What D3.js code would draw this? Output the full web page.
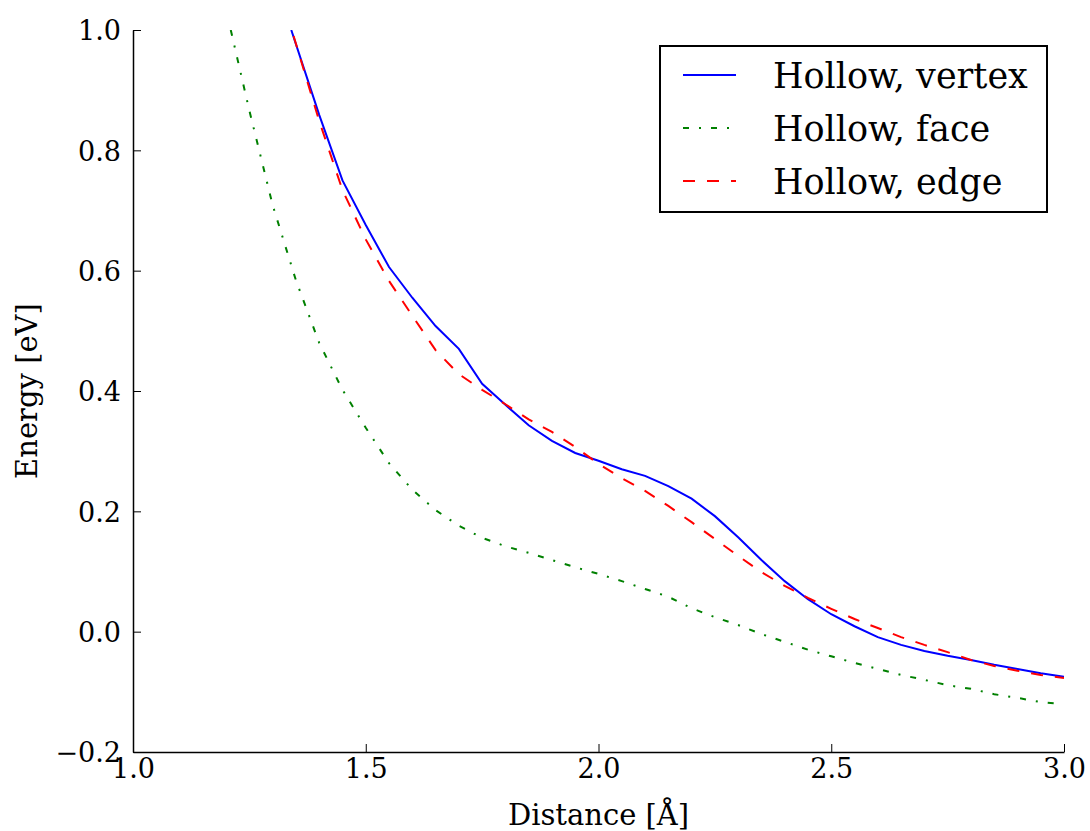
<!DOCTYPE html>
<html lang="en">
<head>
<meta charset="UTF-8">
<title>Hollow site energies</title>
<script src="https://d3js.org/d3.v7.min.js"></script>
<style>
    body { margin: 0; background: #fff; }
    svg { font-family: "DejaVu Serif", serif; }
</style>
</head>
<body>
<div id="chart"></div>
<script>
// distances [Å]
var vertexX = [1.34, 1.40, 1.45, 1.50, 1.55, 1.60, 1.65, 1.70, 1.75, 1.80, 1.85, 1.90, 1.95, 2.00,
    2.05, 2.10, 2.15, 2.20, 2.25, 2.30, 2.35, 2.40, 2.45, 2.50, 2.55, 2.60, 2.65, 2.70,
    2.75, 2.80, 2.85, 2.90, 2.95, 3.00];
var vertexY = [1.00, 0.859, 0.750, 0.676, 0.606, 0.555, 0.508, 0.470, 0.412, 0.377, 0.343, 0.317, 0.297, 0.284,
    0.270, 0.259, 0.242, 0.221, 0.192, 0.157, 0.119, 0.084, 0.054, 0.029, 0.009, -0.009, -0.022, -0.032,
    -0.040, -0.047, -0.055, -0.062, -0.069, -0.075];

var edgeX = [1.345, 1.40, 1.45, 1.50, 1.55, 1.60, 1.65, 1.70, 1.75, 1.80, 1.85, 1.90, 1.95, 2.00,
    2.05, 2.10, 2.15, 2.20, 2.25, 2.30, 2.35, 2.40, 2.45, 2.50, 2.55, 2.60, 2.65, 2.70,
    2.75, 2.80, 2.85, 2.90, 2.95, 3.00];
var edgeY = [0.99, 0.849, 0.734, 0.652, 0.583, 0.525, 0.468, 0.428, 0.402, 0.378, 0.353, 0.332, 0.307, 0.279,
    0.255, 0.234, 0.209, 0.182, 0.154, 0.126, 0.099, 0.076, 0.056, 0.038, 0.021, 0.006, -0.009, -0.022,
    -0.034, -0.047, -0.057, -0.065, -0.072, -0.077];

var faceX = [1.21, 1.25, 1.30, 1.35, 1.40, 1.45, 1.50, 1.55, 1.60, 1.65, 1.70, 1.75, 1.80, 1.85, 1.90,
    1.95, 2.00, 2.05, 2.10, 2.15, 2.20, 2.25, 2.30, 2.35, 2.40, 2.45, 2.50, 2.55, 2.60,
    2.65, 2.70, 2.75, 2.80, 2.85, 2.90, 2.95, 2.98];
var faceY = [1.00, 0.866, 0.709, 0.584, 0.480, 0.402, 0.339, 0.280, 0.236, 0.202, 0.176, 0.156, 0.142, 0.131, 0.119,
    0.107, 0.096, 0.084, 0.071, 0.058, 0.039, 0.024, 0.011, -0.004, -0.017, -0.030, -0.041, -0.052, -0.062,
    -0.072, -0.080, -0.089, -0.095, -0.104, -0.110, -0.117, -0.119];

var seriesNames = ["Hollow, vertex", "Hollow, face", "Hollow, edge"];
var xTicks = [1.0, 1.5, 2.0, 2.5, 3.0];
var yTicks = [-0.2, 0.0, 0.2, 0.4, 0.6, 0.8, 1.0];

var width = 1090, height = 831;
var margin = {left: 133, right: 26, top: 30, bottom: 79};

var svg = d3.select("#chart").append("svg")
    .attr("width", width)
    .attr("height", height);

var x = d3.scaleLinear().domain([1.0, 3.0]).range([margin.left, width - margin.right]);
var y = d3.scaleLinear().domain([-0.2, 1.0]).range([height - margin.bottom, margin.top]);

svg.append("clipPath").attr("id", "clip")
    .append("rect")
    .attr("x", margin.left).attr("y", margin.top)
    .attr("width", x.range()[1] - margin.left)
    .attr("height", y.range()[0] - margin.top);

var series = [
    {name: seriesNames[0], xs: vertexX, ys: vertexY, color: "#0000ff", dash: null},
    {name: seriesNames[1], xs: faceX, ys: faceY, color: "#008000", dash: "6,10,2,10"},
    {name: seriesNames[2], xs: edgeX, ys: edgeY, color: "#ff0000", dash: "12,12"}
];

var line = d3.line()
    .x(d => x(d[0]))
    .y(d => y(d[1]));

series.forEach(function(s) {
    var pts = s.xs.map((v, i) => [v, s.ys[i]]);
    svg.append("path")
        .datum(pts)
        .attr("clip-path", "url(#clip)")
        .attr("d", line)
        .attr("fill", "none")
        .attr("stroke", s.color)
        .attr("stroke-width", 2)
        .attr("stroke-dasharray", s.dash);
});

// axes (left + bottom only, ticks pointing inward)
var fmt = d3.format(".1f");
var xAxis = d3.axisBottom(x).tickValues(xTicks).tickFormat(fmt).tickSizeInner(-8).tickSizeOuter(0).tickPadding(7);
var yAxis = d3.axisLeft(y).tickValues(yTicks).tickFormat(fmt).tickSizeInner(-8).tickSizeOuter(0).tickPadding(12);

var gx = svg.append("g")
    .attr("transform", `translate(0,${y.range()[0]})`)
    .call(xAxis);
var gy = svg.append("g")
    .attr("transform", `translate(${margin.left},0)`)
    .call(yAxis);

[gx, gy].forEach(function(g) {
    g.select(".domain").attr("stroke", "#000").attr("stroke-width", 1.5);
    g.selectAll(".tick line").attr("stroke", "#000").attr("stroke-width", 1);
    g.selectAll(".tick text")
        .attr("fill", "#000")
        .style("font-family", "DejaVu Serif")
        .style("font-size", "27px");
});
gy.selectAll(".tick text").attr("dy", "0.36em");

svg.append("text")
    .attr("x", (x.range()[0] + x.range()[1]) / 2)
    .attr("y", 825)
    .attr("text-anchor", "middle")
    .style("font-size", "29px")
    .text("Distance [Å]");

svg.append("text")
    .attr("transform", `translate(37,${(y.range()[0] + y.range()[1]) / 2}) rotate(-90)`)
    .attr("text-anchor", "middle")
    .style("font-size", "29px")
    .text("Energy [eV]");

// legend
var legend = svg.append("g").attr("transform", "translate(660,46)");
legend.append("rect")
    .attr("width", 387).attr("height", 166)
    .attr("fill", "#fff")
    .attr("stroke", "#000")
    .attr("stroke-width", 2);

series.forEach(function(s, i) {
    var ly = 29 + i * 53;
    legend.append("line")
        .attr("x1", 23).attr("x2", 76)
        .attr("y1", ly).attr("y2", ly)
        .attr("stroke", s.color)
        .attr("stroke-width", 2)
        .attr("stroke-dasharray", s.dash);
    legend.append("text")
        .attr("x", 113).attr("y", ly)
        .attr("dy", "0.36em")
        .style("font-size", "35px")
        .text(s.name);
});
</script>
</body>
</html>
